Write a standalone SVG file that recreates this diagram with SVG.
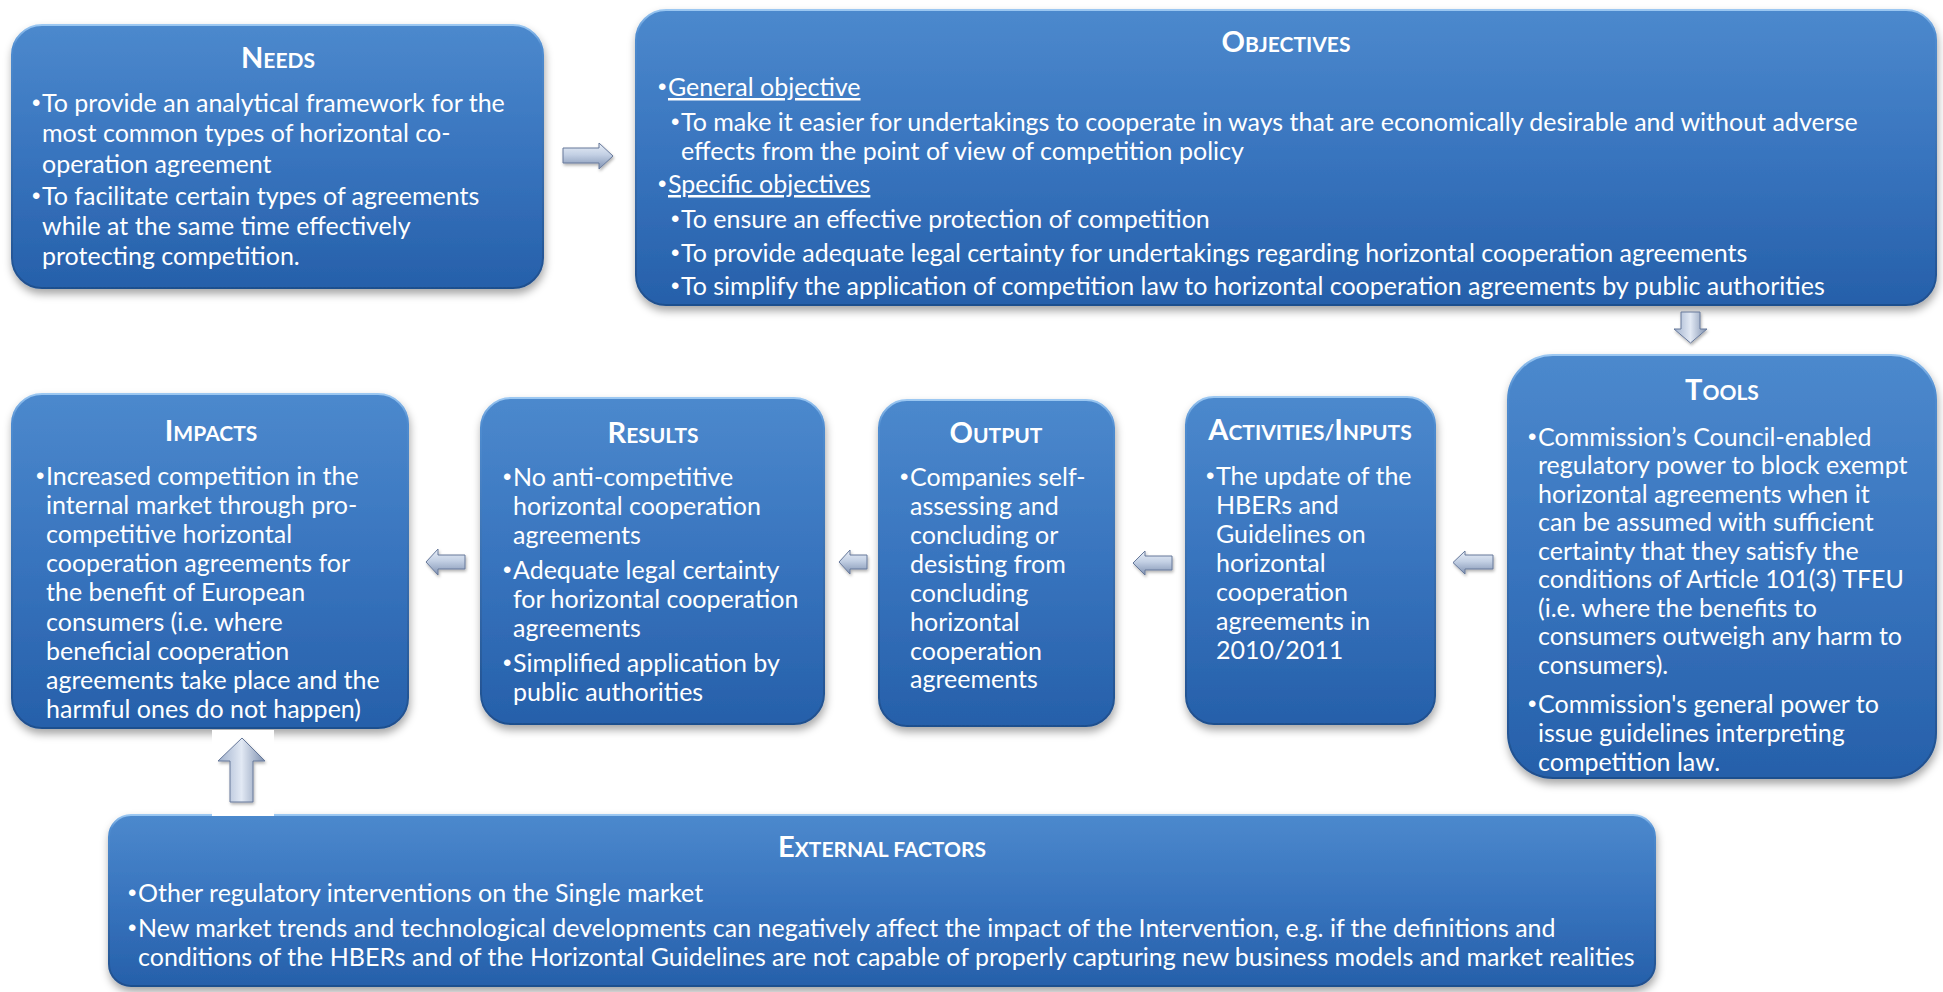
<svg xmlns="http://www.w3.org/2000/svg" width="1943" height="992" viewBox="0 0 1943 992">
<defs>
<linearGradient id="boxg" x1="0" y1="0" x2="0" y2="1">
<stop offset="0" stop-color="#4c89cd"/>
<stop offset="0.5" stop-color="#3874be"/>
<stop offset="1" stop-color="#2660aa"/>
</linearGradient>
<linearGradient id="boxs" x1="0" y1="0" x2="0" y2="1">
<stop offset="0" stop-color="#9cc8f2"/>
<stop offset="0.08" stop-color="#4f8cd0"/>
<stop offset="1" stop-color="#1f4f8e"/>
</linearGradient>
<linearGradient id="arrh" x1="0" y1="0" x2="0" y2="1">
<stop offset="0" stop-color="#e9eff8"/>
<stop offset="0.45" stop-color="#c3d0e4"/>
<stop offset="1" stop-color="#8092b2"/>
</linearGradient>
<linearGradient id="arrv" x1="0" y1="0" x2="1" y2="0">
<stop offset="0" stop-color="#9fb0cc"/>
<stop offset="0.5" stop-color="#e2e9f4"/>
<stop offset="1" stop-color="#7d8fae"/>
</linearGradient>
<filter id="sh" x="-10%" y="-10%" width="120%" height="125%">
<feDropShadow dx="1" dy="5" stdDeviation="4" flood-color="#000" flood-opacity="0.35"/>
</filter>
<filter id="ash" x="-30%" y="-30%" width="160%" height="160%">
<feDropShadow dx="1" dy="2" stdDeviation="1.5" flood-color="#000" flood-opacity="0.3"/>
</filter>
</defs>
<style>
.box{fill:url(#boxg);stroke:url(#boxs);stroke-width:2;filter:url(#sh)}
.t{font-family:Lato,"Liberation Sans",sans-serif;font-size:25px;fill:#fff}
.d{font-family:"Liberation Sans",sans-serif;font-size:24px;fill:#fff}
.h{font-family:Lato,"Liberation Sans",sans-serif;font-size:21px;font-weight:bold;fill:#fff;text-anchor:middle}
.b{font-size:29px}
.u{text-decoration:underline}
.ar{fill:url(#arrh);stroke:#66789a;stroke-width:1;filter:url(#ash)}
.av{fill:url(#arrv);stroke:#66789a;stroke-width:1;filter:url(#ash)}
</style>
<rect width="1943" height="992" fill="#fff"/>

<g id="needs">
<rect class="box" x="12" y="25" width="531" height="263" rx="30"/>
<text class="h" x="278" y="68"><tspan class="b">N</tspan>EEDS</text>
<text class="d" x="32" y="111">•</text>
<text class="t" x="42" y="112">To provide an analytical framework for the</text>
<text class="t" x="42" y="142">most common types of horizontal co-</text>
<text class="t" x="42" y="173">operation agreement</text>
<text class="d" x="32" y="204">•</text>
<text class="t" x="42" y="205">To facilitate certain types of agreements</text>
<text class="t" x="42" y="235">while at the same time effectively</text>
<text class="t" x="42" y="265">protecting competition.</text>
</g>

<g id="objectives">
<rect class="box" x="636" y="10" width="1300" height="295" rx="30"/>
<text class="h" x="1286" y="52"><tspan class="b">O</tspan>BJECTIVES</text>
<text class="d" x="658" y="95">•</text>
<text class="t u" x="668" y="96">General objective</text>
<text class="d" x="671" y="130">•</text>
<text class="t" x="681" y="131">To make it easier for undertakings to cooperate in ways that are economically desirable and without adverse</text>
<text class="t" x="681" y="160">effects from the point of view of competition policy</text>
<text class="d" x="658" y="192">•</text>
<text class="t u" x="668" y="193">Specific objectives</text>
<text class="d" x="671" y="227">•</text>
<text class="t" x="681" y="228">To ensure an effective protection of competition</text>
<text class="d" x="671" y="261">•</text>
<text class="t" x="681" y="262">To provide adequate legal certainty for undertakings regarding horizontal cooperation agreements</text>
<text class="d" x="671" y="294">•</text>
<text class="t" x="681" y="295">To simplify the application of competition law to horizontal cooperation agreements by public authorities</text>
</g>

<g id="tools">
<rect class="box" x="1508" y="355" width="428" height="423" rx="45"/>
<text class="h" x="1722" y="400"><tspan class="b">T</tspan>OOLS</text>
<text class="d" x="1528" y="445">•</text>
<text class="t" x="1538" y="446">Commission’s Council-enabled</text>
<text class="t" x="1538" y="474">regulatory power to block exempt</text>
<text class="t" x="1538" y="503">horizontal agreements when it</text>
<text class="t" x="1538" y="531">can be assumed with sufficient</text>
<text class="t" x="1538" y="560">certainty that they satisfy the</text>
<text class="t" x="1538" y="588">conditions of Article 101(3) TFEU</text>
<text class="t" x="1538" y="617">(i.e. where the benefits to</text>
<text class="t" x="1538" y="645">consumers outweigh any harm to</text>
<text class="t" x="1538" y="674">consumers).</text>
<text class="d" x="1528" y="712">•</text>
<text class="t" x="1538" y="713">Commission's general power to</text>
<text class="t" x="1538" y="742">issue guidelines interpreting</text>
<text class="t" x="1538" y="771">competition law.</text>
</g>

<g id="activities">
<rect class="box" x="1186" y="397" width="249" height="327" rx="28"/>
<text class="h" x="1310" y="440"><tspan class="b">A</tspan>CTIVITIES/<tspan class="b">I</tspan>NPUTS</text>
<text class="d" x="1206" y="484">•</text>
<text class="t" x="1216" y="485">The update of the</text>
<text class="t" x="1216" y="514">HBERs and</text>
<text class="t" x="1216" y="543">Guidelines on</text>
<text class="t" x="1216" y="572">horizontal</text>
<text class="t" x="1216" y="601">cooperation</text>
<text class="t" x="1216" y="630">agreements in</text>
<text class="t" x="1216" y="659">2010/2011</text>
</g>

<g id="output">
<rect class="box" x="879" y="400" width="235" height="326" rx="28"/>
<text class="h" x="996" y="443"><tspan class="b">O</tspan>UTPUT</text>
<text class="d" x="900" y="485">•</text>
<text class="t" x="910" y="486">Companies self-</text>
<text class="t" x="910" y="515">assessing and</text>
<text class="t" x="910" y="544">concluding or</text>
<text class="t" x="910" y="573">desisting from</text>
<text class="t" x="910" y="602">concluding</text>
<text class="t" x="910" y="631">horizontal</text>
<text class="t" x="910" y="660">cooperation</text>
<text class="t" x="910" y="688">agreements</text>
</g>

<g id="results">
<rect class="box" x="481" y="398" width="343" height="326" rx="30"/>
<text class="h" x="653" y="443"><tspan class="b">R</tspan>ESULTS</text>
<text class="d" x="503" y="485">•</text>
<text class="t" x="513" y="486">No anti-competitive</text>
<text class="t" x="513" y="515">horizontal cooperation</text>
<text class="t" x="513" y="544">agreements</text>
<text class="d" x="503" y="578">•</text>
<text class="t" x="513" y="579">Adequate legal certainty</text>
<text class="t" x="513" y="608">for horizontal cooperation</text>
<text class="t" x="513" y="637">agreements</text>
<text class="d" x="503" y="671">•</text>
<text class="t" x="513" y="672">Simplified application by</text>
<text class="t" x="513" y="701">public authorities</text>
</g>

<g id="impacts">
<rect class="box" x="12" y="394" width="396" height="334" rx="30"/>
<text class="h" x="211" y="441"><tspan class="b">I</tspan>MPACTS</text>
<text class="d" x="36" y="484">•</text>
<text class="t" x="46" y="485">Increased competition in the</text>
<text class="t" x="46" y="514">internal market through pro-</text>
<text class="t" x="46" y="543">competitive horizontal</text>
<text class="t" x="46" y="572">cooperation agreements for</text>
<text class="t" x="46" y="601">the benefit of European</text>
<text class="t" x="46" y="631">consumers (i.e. where</text>
<text class="t" x="46" y="660">beneficial cooperation</text>
<text class="t" x="46" y="689">agreements take place and the</text>
<text class="t" x="46" y="718">harmful ones do not happen)</text>
</g>

<g id="external">
<rect class="box" x="109" y="815" width="1546" height="171" rx="22"/>
<text class="h" x="882" y="857"><tspan class="b">E</tspan>XTERNAL FACTORS</text>
<text class="d" x="128" y="901">•</text>
<text class="t" x="138" y="902">Other regulatory interventions on the Single market</text>
<text class="d" x="128" y="936">•</text>
<text class="t" x="138" y="937">New market trends and technological developments can negatively affect the impact of the Intervention, e.g. if the definitions and</text>
<text class="t" x="138" y="966">conditions of the HBERs and of the Horizontal Guidelines are not capable of properly capturing new business models and market realities</text>
</g>

<g id="connectors">
<polygon class="ar" points="563,148 599,148 599,143 613,156 599,169 599,163 563,163"/>
<polygon class="av" points="1681,312 1700,312 1700,329 1707,329 1690.5,343 1674,329 1681,329"/>
<polygon class="ar" points="1493,555 1465,555 1465,551 1453,562.5 1465,574 1465,569 1493,569"/>
<polygon class="ar" points="1172,556 1145,556 1145,551 1133,563 1145,575 1145,570 1172,570"/>
<polygon class="ar" points="867,555 850,555 850,550 839,562 850,574 850,569 867,569"/>
<polygon class="ar" points="465,555 438,555 438,549 426,562 438,575 438,569 465,569"/>
<rect x="212" y="730" width="62" height="86" fill="#fff"/>
<polygon class="av" points="242,738 265,761 253,761 253,802 230,802 230,761 218,761"/>
</g>
</svg>
